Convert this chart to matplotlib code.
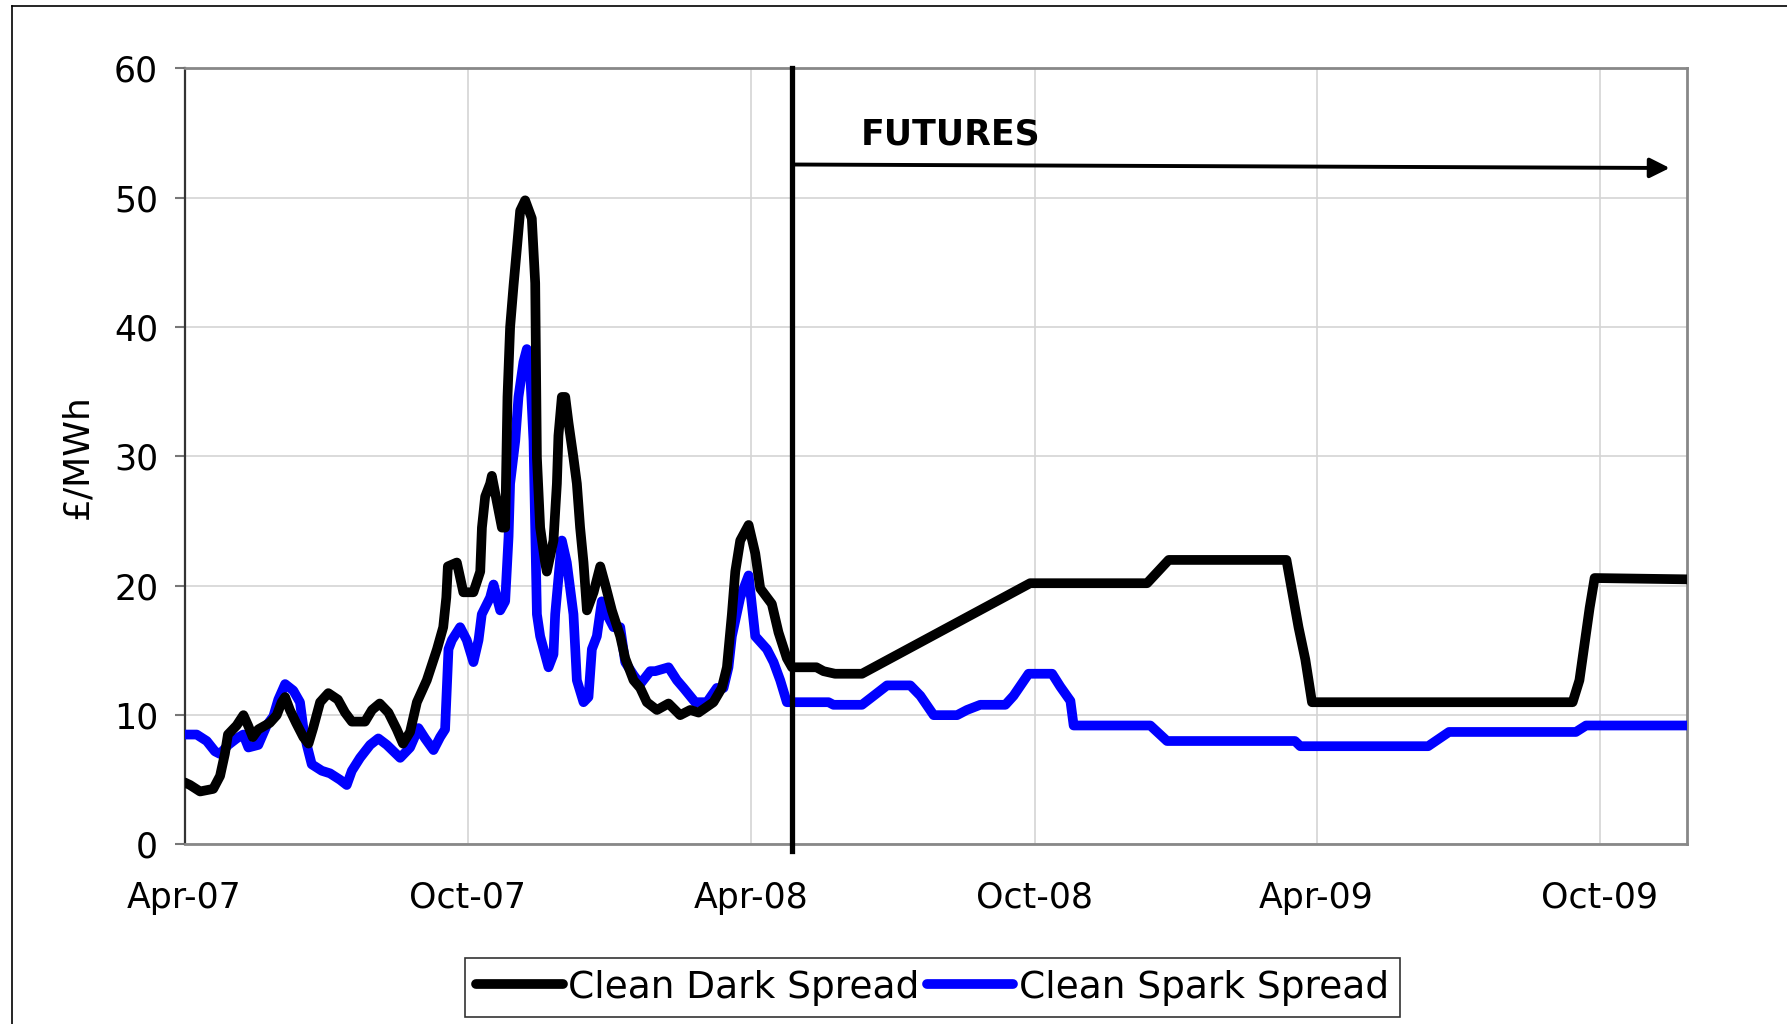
import numpy as np
import pandas as pd
import matplotlib
matplotlib.use("Agg")
import matplotlib.pyplot as plt
import matplotlib.dates as mdates
from matplotlib.lines import Line2D

base_date = pd.Timestamp("2007-04-01")

dark_days = [0, 3.5, 10, 18.5, 22.9, 26, 28, 33.6, 38, 41, 44, 47.6, 55, 59.5, 62.7, 64.9, 68, 72,
             76.7, 80, 83, 87.5, 92.8, 99, 103.6, 108, 116.5, 121, 126, 131.6, 137, 141, 145.6, 150,
             156.4, 163, 167, 169, 170, 175.8, 180, 186.5, 190.9, 192, 194.1, 197.3, 198.4, 200.5,
             204.9, 207, 208.5, 210.2, 212.4, 214.5, 216.7, 219.9, 224.2, 226.4, 227.5, 229.6, 232.8,
             233.9, 238.2, 240.4, 241.4, 243.6, 245.8, 247.9, 251.1, 253.3, 255.4, 257.6, 259.8,
             264.1, 268.4, 271.6, 275.9, 281.3, 284.5, 289.9, 294.2, 298.5, 305, 312.5, 320, 326.5,
             331.9, 341.5, 346.9, 350.2, 353.4, 355.6, 358.8, 364.2, 368.5, 371.7, 379.2, 383.5,
             388.9, 392.2, 408, 412.6, 420, 437.4, 546, 621.5, 635.5, 711.5, 714.8, 719.3, 723.7,
             728, 896.3, 900.7, 904, 907.3, 910.5, 970]
dark_vals = [4.8, 4.6, 4.1, 4.3, 5.3, 7.0, 8.5, 9.2, 10.0, 9.2, 8.3, 8.9, 9.4, 10.0, 11.0, 11.4, 10.4, 9.4,
             8.3, 7.8, 9.0, 11.0, 11.7, 11.2, 10.2, 9.5, 9.5, 10.4, 10.9, 10.2, 8.9, 7.8, 8.7, 11.0,
             12.7, 15.1, 16.8, 19.1, 21.5, 21.8, 19.5, 19.5, 21.1, 24.5, 26.9, 27.9, 28.5, 27.2,
             24.5, 24.5, 34.6, 40.0, 43.2, 46.0, 49.0, 49.8, 48.4, 43.4, 29.9, 24.5, 21.8,
             21.1, 23.5, 27.9, 31.6, 34.6, 34.6, 32.6, 29.9, 27.9, 24.5, 21.8, 18.1,
             19.5, 21.5, 20.1, 18.1, 16.1, 14.4, 12.7, 12.1, 11.0, 10.4, 10.9, 10.0, 10.4,
             10.2, 11.0, 12.1, 13.7, 17.8, 21.1, 23.5, 24.7, 22.5, 19.8, 18.6, 16.4,
             14.4, 13.7, 13.7, 13.4, 13.2, 13.2, 20.2, 20.2, 22.0, 22.0, 19.8, 16.8, 14.3,
             11.0, 11.0, 12.7, 15.5, 18.3, 20.6, 20.5]

spark_days = [0, 7.8, 14.3, 19.6, 22.9, 28.2, 33.6, 37.9, 41.2, 47.6, 53, 57.3, 60.5, 64.9, 70.2, 74.5,
              76.7, 78.9, 82.1, 88.6, 93.9, 100.4, 104.7, 108, 113.3, 119.8, 125.1, 130.6, 139.2,
              145.6, 151, 155.3, 160.7, 165, 168.2, 170.4, 172.6, 177.9, 182.2, 186.5, 189.8, 191.9,
              197.3, 199.5, 203.8, 207, 209.2, 210.2, 213.5, 215.6, 218.8, 221, 223.1, 225.3, 226.4,
              227.5, 229.6, 235, 238.2, 239.3, 243.6, 246.8, 251.1, 253.3, 257.6, 260.8, 263, 266.2,
              269.4, 272.7, 277, 281.3, 284.5, 289.9, 294.2, 300.7, 303.9, 312.5, 317.9, 322.2,
              329.7, 337.3, 343.7, 348, 351.2, 353.4, 358.8, 364.2, 368.5, 376, 380.3, 384.6, 388.9,
              392.2, 415.8, 419, 437.4, 443.9, 453.6, 468.6, 475.1, 483.7, 498.8, 505.2, 513.8, 530,
              535.3, 545, 560.2, 565.5, 572, 574.1, 623.6, 634.4, 717, 720.4, 803, 816.5, 898.4,
              905, 970]
spark_vals = [8.5, 8.5, 8.0, 7.2, 7.0, 7.7, 8.2, 8.5, 7.5, 7.7, 9.2, 9.9, 11.2, 12.4, 11.9, 11.0,
              9.0, 7.7, 6.2, 5.7, 5.5, 5.0, 4.6, 5.7, 6.7, 7.7, 8.2, 7.7, 6.7,
              7.5, 9.0, 8.2, 7.3, 8.3, 8.9, 15.1, 15.8, 16.8, 15.8, 14.1, 15.8, 17.8,
              19.1, 20.1, 18.1, 18.8, 23.8, 27.9, 31.2, 34.6, 37.3, 38.3, 36.6, 31.2, 24.5,
              17.8, 16.1, 13.7, 14.7, 17.8, 23.5, 21.8, 17.8, 12.7, 11.0, 11.4, 15.1, 16.1,
              18.8, 17.8, 16.8, 16.8, 14.1, 13.1, 12.4, 13.4, 13.4, 13.7, 12.7, 12.1,
              11.0, 11.0, 12.1, 12.1, 13.7, 16.1, 19.1, 20.8, 16.1, 15.1, 14.1, 12.7, 11.0,
              11.0, 11.0, 10.8, 10.8, 11.4, 12.3, 12.3, 11.5, 10.0, 10.0, 10.4, 10.8, 10.8,
              11.5, 13.2, 13.2, 12.2, 11.1, 9.2, 9.2, 8.0, 8.0, 7.6, 7.6, 8.7, 8.7,
              9.2, 9.2]

futures_start = 392.2      # day the futures curve begins
arrow_end = 959
tick_dates = ["2007-04-01", "2007-10-01", "2008-04-01", "2008-10-01", "2009-04-01", "2009-10-01"]
x_end = 970


def to_dates(days):
    return base_date + pd.to_timedelta(np.asarray(days, dtype=float), unit="D")


fig = plt.figure(figsize=(17.87, 10.24), dpi=100)
ax = fig.add_axes([0.1033, 0.1753, 0.8406, 0.7579])

ax.plot(to_dates(dark_days), dark_vals, color="black", lw=7,
        solid_joinstyle="round", solid_capstyle="round", label="Clean Dark Spread", zorder=4)
ax.plot(to_dates(spark_days), spark_vals, color="#0000ff", lw=7,
        solid_joinstyle="round", solid_capstyle="round", label="Clean Spark Spread", zorder=3)

# start of futures
fx = to_dates([futures_start, futures_start])
ax.plot(fx, [-0.5, 60], color="black", lw=3.8, clip_on=False, zorder=5)
ax.annotate("", xy=(to_dates([arrow_end])[0], 52.3), xytext=(fx[0], 52.57),
            arrowprops=dict(arrowstyle="-|>", lw=2.8, color="black", mutation_scale=30,
                            shrinkA=0, shrinkB=0), zorder=5)
ax.text(to_dates([494.5])[0], 54.9, "FUTURES", fontsize=25, fontweight="bold",
        ha="center", va="center")

ax.set_xlim(to_dates([0])[0], to_dates([x_end])[0])
ax.set_ylim(0, 60)
ax.set_yticks(range(0, 61, 10))
ax.set_xticks(pd.to_datetime(tick_dates))
ax.xaxis.set_major_formatter(mdates.DateFormatter("%b-%y"))

ax.grid(True, color="#d4d4d4", lw=1.2)
ax.set_axisbelow(True)
for side in ["top", "right", "bottom"]:
    ax.spines[side].set_color("#888888")
    ax.spines[side].set_linewidth(2)
ax.spines["left"].set_color("#333333")
ax.spines["left"].set_linewidth(1.6)

ax.tick_params(axis="y", direction="out", length=7, width=1.5, color="#777777",
               labelsize=25, pad=12)
ax.tick_params(axis="x", length=0, labelsize=25, pad=26)

ax.set_ylabel("£/MWh", fontsize=26)
ax.yaxis.set_label_coords(-0.06, 0.5)

leg = fig.legend(loc="center", bbox_to_anchor=(0.522, 0.0356), ncol=2, fontsize=27,
                 frameon=True, fancybox=False, edgecolor="black", handlelength=2.3,
                 handletextpad=0.15, columnspacing=0.2, borderpad=0.3, borderaxespad=0)
leg.get_frame().set_linewidth(1.2)

# outer chart border (only left and top visible)
fig.add_artist(Line2D([12 / 1787, 12 / 1787], [0, 1 - 6 / 1024], transform=fig.transFigure,
                      color="black", lw=1.2))
fig.add_artist(Line2D([12 / 1787, 1], [1 - 6 / 1024, 1 - 6 / 1024], transform=fig.transFigure,
                      color="black", lw=1.2))

fig.savefig("out.png", dpi=100)
